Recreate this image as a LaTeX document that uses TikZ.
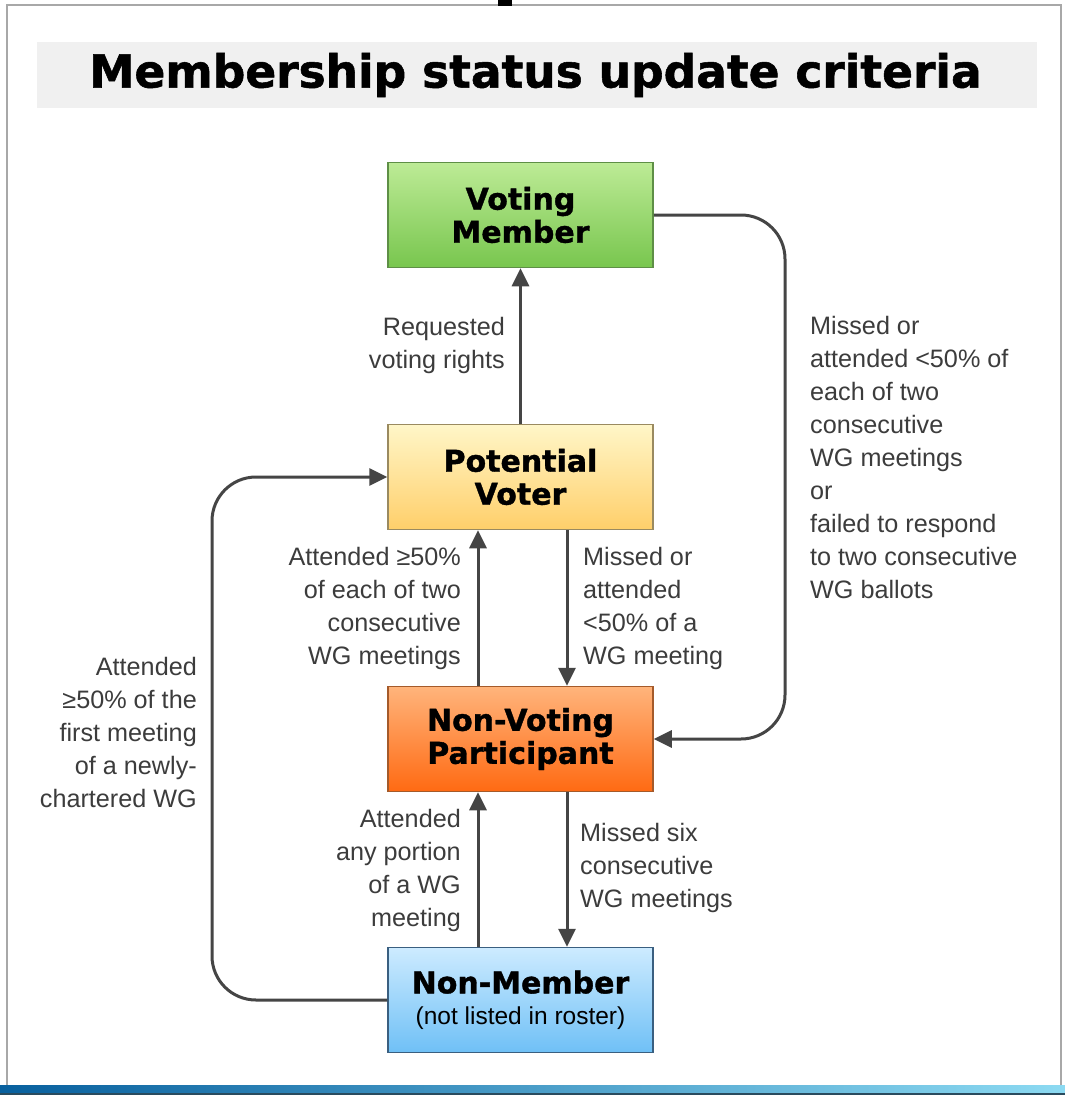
\documentclass[tikz,border=0pt]{standalone}
\usepackage{fontspec}
\setmainfont{Liberation Sans}
\newfontfamily\dv{DejaVu Sans}
\newfontfamily\dvh{DejaVu Sans Bold}[FakeBold=1.2]
\usetikzlibrary{arrows.meta}
\definecolor{lbl}{HTML}{3C3C3C}
\definecolor{arr}{HTML}{454545}
\definecolor{vmtop}{HTML}{BDEB96}
\definecolor{vmbot}{HTML}{78C64E}
\definecolor{vmdraw}{HTML}{5E8F46}
\definecolor{pvtop}{HTML}{FFF6C8}
\definecolor{pvbot}{HTML}{FFCF6A}
\definecolor{pvdraw}{HTML}{9A8A60}
\definecolor{nvtop}{HTML}{FFB47C}
\definecolor{nvbot}{HTML}{FF6A12}
\definecolor{nvdraw}{HTML}{A45A2A}
\definecolor{nmtop}{HTML}{CDEBFF}
\definecolor{nmbot}{HTML}{6FC0F6}
\definecolor{nmdraw}{HTML}{3A5F80}
\definecolor{framec}{HTML}{A8A8A8}
\definecolor{bandc}{HTML}{F0F0F0}
\definecolor{barl}{HTML}{08609E}
\definecolor{barm}{HTML}{1EA0D7}
\definecolor{barr}{HTML}{8CDAF2}
\definecolor{bard}{HTML}{2A4B5E}
\begin{document}
\begin{tikzpicture}[x=1pt,y=-1pt,
  statebox/.style={draw, line width=1.5pt, minimum width=265pt, minimum height=105pt,
    inner sep=0pt, align=center, text=black,
    font=\dvh\fontsize{30}{33}\selectfont},
  conn/.style={draw=arr, line width=3pt, -{Triangle[length=18pt,width=17pt]}, arr},
  lblr/.style={anchor=east, align=right, inner sep=0pt, text=lbl,
    font=\fontsize{25.2}{33}\selectfont},
  lbll/.style={anchor=west, align=left, inner sep=0pt, text=lbl,
    font=\fontsize{25.2}{33}\selectfont}]
\useasboundingbox (0,0) rectangle (1065,1095);
\fill[white] (0,0) rectangle (1065,1095);
% frame
\draw[framec, line width=2.5pt] (7,5) rectangle (1061,1088);
\fill[black] (498,0) rectangle (512,6);
% bottom bar
\shade[left color=barl, middle color=barm, right color=barr] (0,1085) rectangle (1065,1095);
\fill[bard] (0,1092.5) rectangle (1065,1095);
% title band
\fill[bandc] (37,42) rectangle (1037,108);
\node[font=\dvh\fontsize{45.5}{50}\selectfont, inner sep=0pt] (title) at (535.5,75) {Membership status update criteria};
% state boxes
\node[statebox, top color=vmtop, bottom color=vmbot, draw=vmdraw] (vm) at (520.5,215) {Voting\\Member};
\node[statebox, top color=pvtop, bottom color=pvbot, draw=pvdraw] (pv) at (520.5,477) {Potential\\Voter};
\node[statebox, top color=nvtop, bottom color=nvbot, draw=nvdraw] (nvp) at (520.5,739) {Non-Voting\\Participant};
\node[statebox, top color=nmtop, bottom color=nmbot, draw=nmdraw] (nm) at (520.5,1000) {Non-Member\\[-2pt]{\rmfamily\fontsize{24.5}{30}\selectfont (not listed in roster)}};
% connectors
\draw[conn] (pv.north) -- (vm.south);
\draw[conn] ([xshift=46.5pt]pv.south) -- ([xshift=46.5pt]nvp.north);
\draw[conn] ([xshift=-42.5pt]nvp.north) -- ([xshift=-42.5pt]pv.south);
\draw[conn] ([xshift=-42.5pt]nm.north) -- ([xshift=-42.5pt]nvp.south);
\draw[conn] ([xshift=46.5pt]nvp.south) -- ([xshift=46.5pt]nm.north);
\coordinate (r1) at (785,215);
\coordinate (r2) at (785,739);
\draw[conn, rounded corners=44pt] (vm.east) -- (r1) -- (r2) -- (nvp.east);
\coordinate (l1) at (212,1000);
\coordinate (l2) at (212,477);
\draw[conn, rounded corners=44pt] (nm.west) -- (l1) -- (l2) -- (pv.west);
% labels
\node[lblr] (t1) at (505,345) {Requested\\voting rights};
\node[lblr] (t2) at (461,608) {Attended ≥50\%\\of each of two\\consecutive\\WG meetings};
\node[lbll] (t3) at (583,608) {Missed or\\attended\\<50\% of a\\WG meeting};
\node[lblr] (t4) at (461,870) {Attended\\any portion\\of a WG\\meeting};
\node[lbll] (t5) at (580,868) {Missed six\\consecutive\\WG meetings};
\node[lbll] (t6) at (810,457) {Missed or\\attended <50\% of\\each of two\\consecutive\\WG meetings\\or\\failed to respond\\to two consecutive\\WG ballots};
\node[lblr] (t7) at (197,732) {Attended\\≥50\% of the\\first meeting\\of a newly-\\chartered WG};
\end{tikzpicture}
\end{document}
